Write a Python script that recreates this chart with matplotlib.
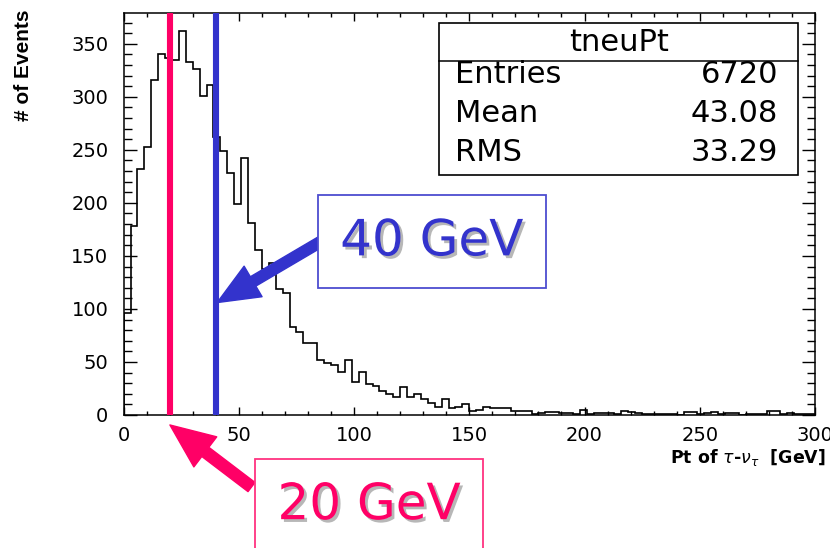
import numpy as np
import matplotlib
matplotlib.use("Agg")
import matplotlib.pyplot as plt
import matplotlib.patheffects as pe
from matplotlib.patches import Rectangle
from matplotlib.ticker import MultipleLocator


# histogram contents, 3 GeV bins from 0 to 300
BIN_WIDTH = 3
counts = [
    96, 178, 232, 253, 316, 340, 337, 335, 362, 333,
    326, 301, 311, 262, 249, 228, 199, 242, 181, 156,
    138, 143, 119, 115, 83, 78, 68, 68, 52, 49,
    47, 41, 52, 31, 41, 29, 27, 23, 20, 17,
    26, 17, 20, 15, 11, 8, 15, 7, 8, 10,
    4, 5, 8, 7, 7, 7, 4, 4, 4, 1,
    2, 3, 3, 2, 2, 1, 5, 1, 2, 2,
    2, 1, 4, 3, 2, 1, 1, 1, 1, 1,
    0, 3, 3, 1, 2, 3, 1, 2, 2, 0,
    1, 1, 1, 4, 4, 1, 2, 1, 1, 1,
]
edges = np.arange(len(counts) + 1) * BIN_WIDTH

hist_name = "tneuPt"
stat_names = ["Entries", "Mean", "RMS"]
stat_values = ["6720", "43.08", "33.29"]

cut_values = [20, 40]
cut_colors = ["#ff0066", "#3333cc"]
cut_labels = ["20 GeV", "40 GeV"]


fig = plt.figure(figsize=(8.3, 5.48), dpi=100)
ax = fig.add_axes([123.6 / 830, 1 - 415 / 548, 691.4 / 830, 402 / 548])

ax.stairs(counts, edges, color="black", lw=1.2, zorder=2)
for v, c in zip(cut_values, cut_colors):
    ax.axvline(v, color=c, lw=4.4, zorder=3)

ax.set_xlim(0, 300)
ax.set_ylim(0, 379)
ax.xaxis.set_major_locator(MultipleLocator(50))
ax.xaxis.set_minor_locator(MultipleLocator(10))
ax.yaxis.set_major_locator(MultipleLocator(50))
ax.yaxis.set_minor_locator(MultipleLocator(10))
ax.tick_params(which="both", direction="in", top=True, right=True, width=1.0, labelsize=14)
ax.tick_params(axis="y", which="major", length=9.5, pad=11)
ax.tick_params(axis="y", which="minor", length=6)
ax.tick_params(axis="x", which="major", length=5.5, pad=8)
ax.tick_params(axis="x", which="minor", length=3)
for s in ax.spines.values():
    s.set_linewidth(1.1)

ax.set_ylabel("# of Events", loc="top", fontsize=15, fontweight="bold",
              family="Liberation Sans")
ax.yaxis.set_label_coords(-0.131, 1.008)
ax.set_xlabel(r"Pt of $\tau$-$\nu_{\tau}$  [GeV]", loc="right", fontsize=12.5,
              fontweight="bold")
ax.xaxis.set_label_coords(1.015, -0.08)

# stats box
bx0, bx1, by0, by1, bsep = 0.4566, 0.9758, 0.597, 0.9744, 0.8806
ax.add_patch(Rectangle((bx0, by0), bx1 - bx0, by1 - by0, transform=ax.transAxes,
                       fc="white", ec="black", lw=1.2, zorder=5))
ax.plot([bx0, bx1], [bsep, bsep], transform=ax.transAxes, color="black", lw=1.1, zorder=6)
ax.text((bx0 + bx1) / 2, (bsep + by1) / 2, hist_name, transform=ax.transAxes,
        ha="center", va="center", fontsize=22, zorder=6)
for i, (n, v) in enumerate(zip(stat_names, stat_values)):
    y = 0.8458 - i * 0.0958
    ax.text(0.479, y, n, transform=ax.transAxes, ha="left", va="center", fontsize=22, zorder=6)
    ax.text(0.9464, y, v, transform=ax.transAxes, ha="right", va="center", fontsize=22, zorder=6)

# annotations for the two cuts
shadow = [pe.withSimplePatchShadow(offset=(2, -2), shadow_rgbFace="#999999", alpha=0.7)]
arrow_style = "simple,head_length=1.0,head_width=0.85,tail_width=0.26"

ax.annotate("", xy=(40.6, 106), xytext=(85.6, 163.5),
            arrowprops=dict(arrowstyle=arrow_style, color=cut_colors[1],
                            mutation_scale=30, shrinkA=0, shrinkB=0), zorder=7)
ax.text(133.7, 163.7, cut_labels[1], ha="center", va="center", fontsize=36,
        color=cut_colors[1], path_effects=shadow, zorder=8,
        bbox=dict(boxstyle="square,pad=0.45", fc="white", ec="#4d4dd0", lw=1.3))

ax.annotate("", xy=(20.1, -9.4), xytext=(55.5, -67.9), annotation_clip=False,
            arrowprops=dict(arrowstyle=arrow_style, color=cut_colors[0],
                            mutation_scale=32, shrinkA=0, shrinkB=0), zorder=7)
ax.text(106.5, -85, cut_labels[0], ha="center", va="center", fontsize=36,
        color=cut_colors[0], path_effects=shadow, zorder=8, clip_on=False,
        bbox=dict(boxstyle="square,pad=0.45", fc="white", ec="#ff3380", lw=1.3))

fig.savefig("out.png", dpi=100)
